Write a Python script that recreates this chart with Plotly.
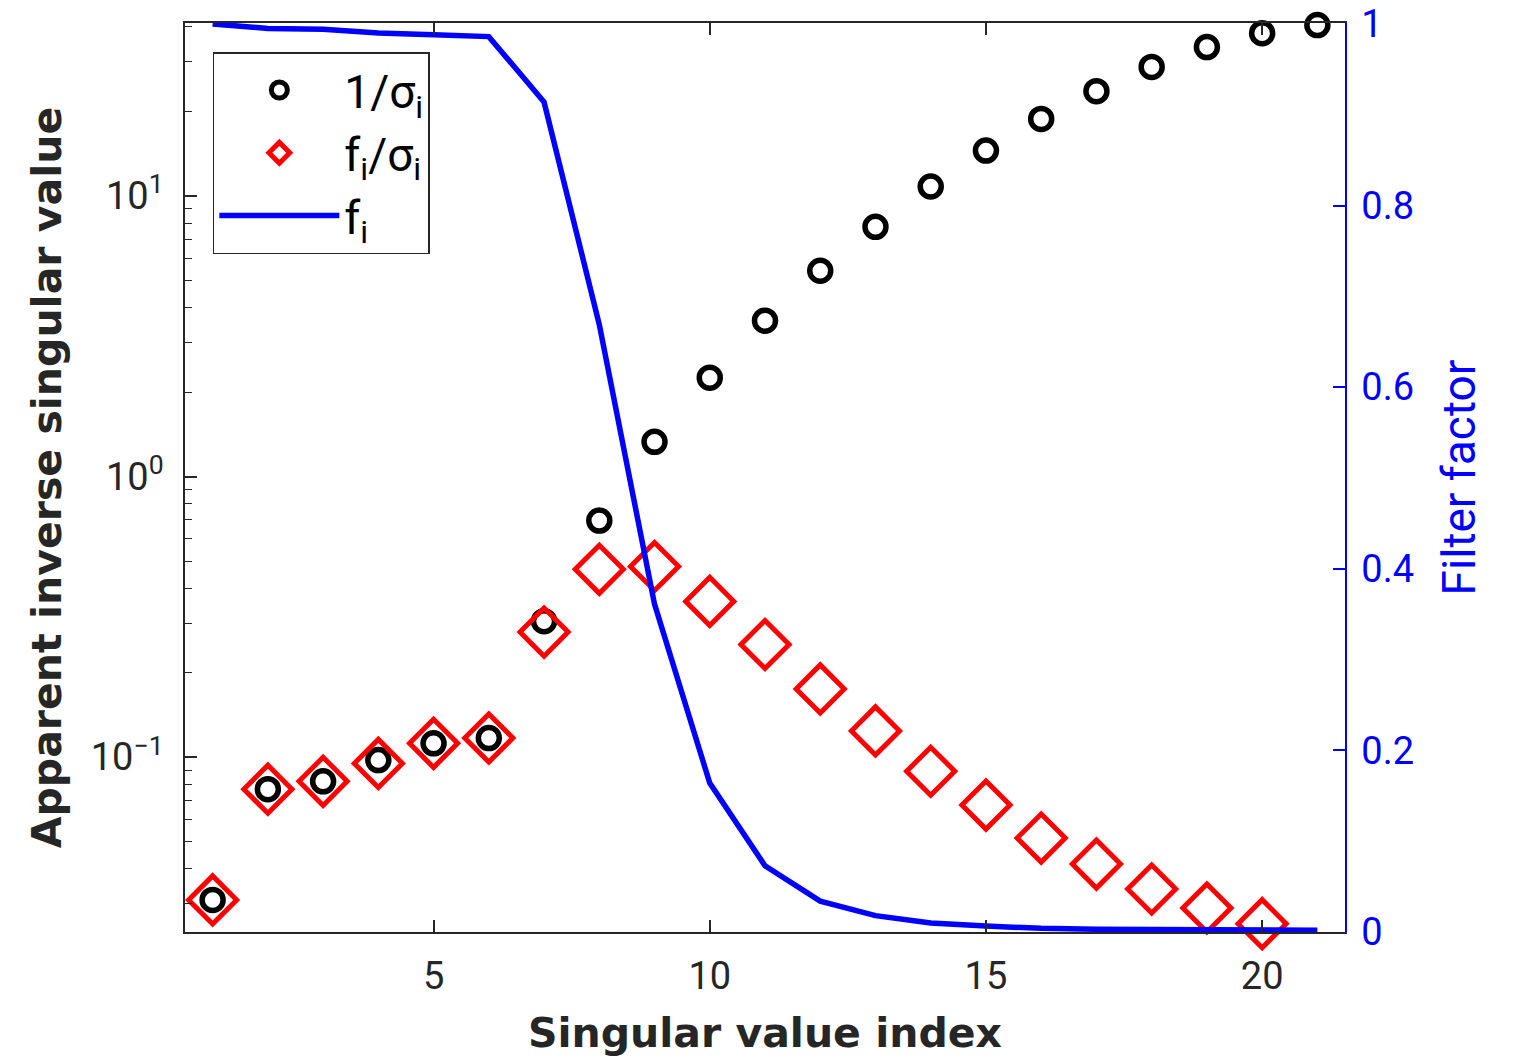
import plotly.graph_objects as go

# ---- data ----
idx = list(range(1, 22))
inv_sigma = [0.031, 0.0769, 0.082, 0.0976, 0.112, 0.117, 0.305, 0.697, 1.33, 2.25,
             3.59, 5.41, 7.76, 10.8, 14.5, 18.8, 23.6, 28.8, 33.9, 38.0, 40.6]
idx_f = list(range(1, 21))
f_over_sigma = [0.031, 0.0769, 0.082, 0.095, 0.112, 0.117, 0.279, 0.467, 0.478, 0.359,
                0.252, 0.175, 0.124, 0.0891, 0.0675, 0.0515, 0.0416, 0.0339, 0.029, 0.0255]
filt = [1.0, 0.995, 0.994, 0.99, 0.988, 0.986, 0.914, 0.669, 0.361, 0.164,
        0.073, 0.034, 0.018, 0.010, 0.0066, 0.004, 0.003, 0.0025, 0.002, 0.002, 0.002]

x_ticks = [5, 10, 15, 20]
y_ticks = [0.1, 1, 10]
y_ticktext = ["10<sup>\u22121</sup>", "10<sup>0</sup>", "10<sup>1</sup>"]
y2_ticks = [0, 0.2, 0.4, 0.6, 0.8, 1]
y2_ticktext = ["0", "0.2", "0.4", "0.6", "0.8", "1"]
minor_ticks = [m * 10 ** e for e in (-2, -1, 0, 1) for m in range(2, 10)]

FONT = "Roboto, 'DejaVu Sans', sans-serif"
TITLE_FONT = "'DejaVu Sans', Roboto, sans-serif"
DARK = "#262626"
BLUE = "#0000FF"

fig = go.Figure()
fig.add_trace(go.Scatter(
    x=idx, y=inv_sigma, mode="markers", name="1/σ<sub>i</sub>",
    marker=dict(symbol="circle-open", size=21, color="black", line=dict(width=5.5, color="black")),
    cliponaxis=False, yaxis="y"))
fig.add_trace(go.Scatter(
    x=idx_f, y=f_over_sigma, mode="markers", name="f<sub>i</sub>/σ<sub>i</sub>",
    marker=dict(symbol="diamond-open", size=37, color="#FF0000", line=dict(width=5, color="#FF0000")),
    cliponaxis=False, yaxis="y"))
fig.add_trace(go.Scatter(
    x=idx, y=filt, mode="lines", name="f<sub>i</sub>",
    line=dict(color=BLUE, width=5.5), yaxis="y2"))

fig.update_layout(
    width=1511, height=1056,
    margin=dict(l=177, r=174, t=15, b=132, autoexpand=False),
    paper_bgcolor="white", plot_bgcolor="white",
    font=dict(family=FONT, size=38, color=DARK),
    showlegend=True,
    legend=dict(x=0.024, y=0.968, xanchor="left", yanchor="top",
                bgcolor="white", bordercolor=DARK, borderwidth=1.5,
                font=dict(size=46, color="black"), itemsizing="trace",
                itemwidth=120, tracegroupgap=0),
    xaxis=dict(range=[0.5, 21.5], tickvals=x_ticks, ticks="inside", ticklen=12,
               tickwidth=1.5, tickcolor=DARK, showline=True, linecolor=DARK,
               linewidth=1.5, mirror="ticks", showgrid=False, zeroline=False,
               tickfont=dict(size=38, color=DARK), automargin=False,
               ticklabelstandoff=10,
               title=dict(text="<b>Singular value index</b>", standoff=21,
                          font=dict(family=TITLE_FONT, size=41, color=DARK))),
    yaxis=dict(type="log", range=[-1.623, 1.616], tickvals=y_ticks, ticktext=y_ticktext,
               ticks="inside", ticklen=12, tickwidth=1.5, tickcolor=DARK,
               showline=True, linecolor=DARK, linewidth=1.5, showgrid=False,
               zeroline=False, tickfont=dict(size=38, color=DARK), automargin=False,
               ticklabelstandoff=12, ticklabeloverflow="allow",
               minor=dict(tickvals=minor_ticks, ticks="inside", ticklen=7,
                          tickwidth=1.2, tickcolor=DARK, showgrid=False),
               title=dict(text="<b>Apparent inverse singular value</b>", standoff=16,
                          font=dict(family=TITLE_FONT, size=41, color=DARK))),
    yaxis2=dict(overlaying="y", side="right", range=[0, 1.001], tickvals=y2_ticks,
                ticktext=y2_ticktext, ticks="inside", ticklen=12, tickwidth=1.5,
                tickcolor=BLUE, showline=True, linecolor=BLUE, linewidth=1.5,
                showgrid=False, zeroline=False, automargin=False,
                ticklabelstandoff=7, ticklabeloverflow="allow",
                tickfont=dict(size=38, color=BLUE),
                title=dict(text="Filter factor", standoff=30,
                           font=dict(size=46, color=BLUE))),
)

fig.write_html("out.html")
